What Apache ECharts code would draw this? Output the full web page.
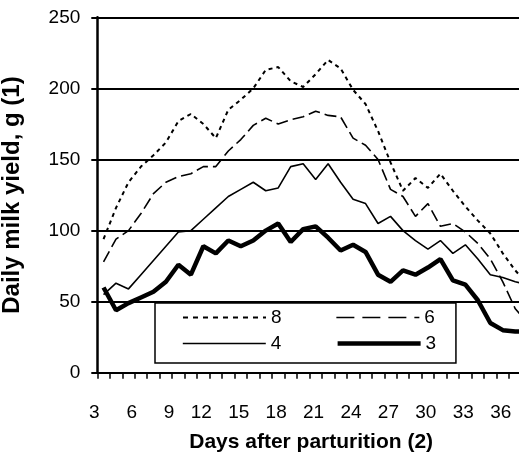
<!DOCTYPE html>
<html><head><meta charset="utf-8">
<script src="https://cdn.jsdelivr.net/npm/echarts@6/dist/echarts.min.js"></script>
<style>html,body{margin:0;padding:0;background:#fff}#c{width:519px;height:457px}</style>
</head><body><div id="c"></div>
<script>
const days = [3,4,5,6,7,8,9,10,11,12,13,14,15,16,17,18,19,20,21,22,23,24,25,26,27,28,29,30,31,32,33,34,35,36,37].map(String);
const s8 = [94,116,134,145,153,162,177,182,175,165,185,192,200,213,215,205,201,210,220,214,199,189,170,148,128,137,130,140,128,117,107,98,84,72,62];
const s6 = [78,94,100,112,126,134,138,140,145,145,156,164,174,179,175,178,180,184,181,180,165,160,150,129,124,110,119,103,105,99,91,80,64,45,35];
const s4 = [55,63,59,69,79,89,99,100,108,116,124,129,134,128,130,145,147,136,147,134,122,119,105,110,100,93,87,93,84,90,80,69,67,64,62];
const s3 = [60,44,49,53,57,64,76,69,89,84,93,89,93,100,105,92,101,103,95,86,90,85,69,64,72,69,74,80,65,62,51,35,30,29,29];
const seriesNames = ['8','6','4','3'];
const xTitle = 'Days after parturition (2)';
const yTitle = 'Daily milk yield, g (1)';

const FONT = 'Liberation Sans, Arial, sans-serif';
const chart = echarts.init(document.getElementById('c'), null, {renderer:'canvas'});
const legendCommon = {
  orient: 'horizontal', left: 155, itemWidth: 83, itemHeight: 14, itemGap: 54,
  selectedMode: false,
  textStyle: {fontFamily: FONT, fontSize: 19, color: '#000'},
  itemStyle: {color: 'rgba(0,0,0,0)', borderColor: 'rgba(0,0,0,0)', borderWidth: 0, opacity: 0},
  lineStyle: {width: 'inherit'}
};
chart.setOption({
  animation: false,
  backgroundColor: '#fff',
  grid: {left: 97.3, top: 17.3, bottom: 84.2, width: 436.7, containLabel: false, outerBoundsMode: 'none'},
  legend: [
    Object.assign({}, legendCommon, {
      top: 303, data: [{name:'8', lineStyle:{type:[5,5]}}, {name:'6', lineStyle:{type:[18,8]}}],
      padding: [5, 21, 36, 27],
      backgroundColor: '#fff', borderColor: '#000', borderWidth: 1.5, z: 10
    }),
    Object.assign({}, legendCommon, {
      top: 329, data: ['4','3'], padding: [5, 21, 5, 27], z: 11
    })
  ],
  xAxis: {
    type: 'category', data: days, boundaryGap: true,
    axisLine: {show: true, lineStyle: {color: '#000', width: 2}},
    axisTick: {show: true, interval: 0, length: 6, lineStyle: {color: '#000', width: 1.5}},
    axisLabel: {interval: 2, align: 'right', padding: [0,4,0,0], margin: 30,
      fontFamily: FONT, fontSize: 19, color: '#000'},
    splitLine: {show: false},
    name: xTitle, nameLocation: 'middle', nameGap: 59,
    nameTextStyle: {fontFamily: FONT, fontSize: 21, fontWeight: 'bold', color: '#000', padding:[0,9,0,0]}
  },
  yAxis: {
    type: 'value', min: 0, max: 250, interval: 50,
    axisLine: {show: true, lineStyle: {color: '#000', width: 2.5}},
    axisTick: {show: true, length: 6, lineStyle: {color: '#000', width: 2}},
    axisLabel: {margin: 17, fontFamily: FONT, fontSize: 19, color: '#000'},
    splitLine: {show: true, lineStyle: {color: '#000', width: 2}},
    name: yTitle, nameLocation: 'middle', nameGap: 73, nameRotate: 90,
    nameTextStyle: {fontFamily: FONT, fontSize: 24, fontWeight: 'bold', color: '#000'}
  },
  series: [
    {name: '8', type: 'line', data: s8, symbol: 'none', z: 3,
      lineStyle: {color: '#000', width: 2, type: [4,4]}, itemStyle:{color:'#000'}},
    {name: '6', type: 'line', data: s6, symbol: 'none', z: 3,
      lineStyle: {color: '#000', width: 1.6, type: [12,5]}, itemStyle:{color:'#000'}},
    {name: '4', type: 'line', data: s4, symbol: 'none', z: 3,
      lineStyle: {color: '#000', width: 1.6}, itemStyle:{color:'#000'}},
    {name: '3', type: 'line', data: s3, symbol: 'none', z: 4,
      lineStyle: {color: '#000', width: 4.5}, itemStyle:{color:'#000'}}
  ]
});
</script></body></html>
